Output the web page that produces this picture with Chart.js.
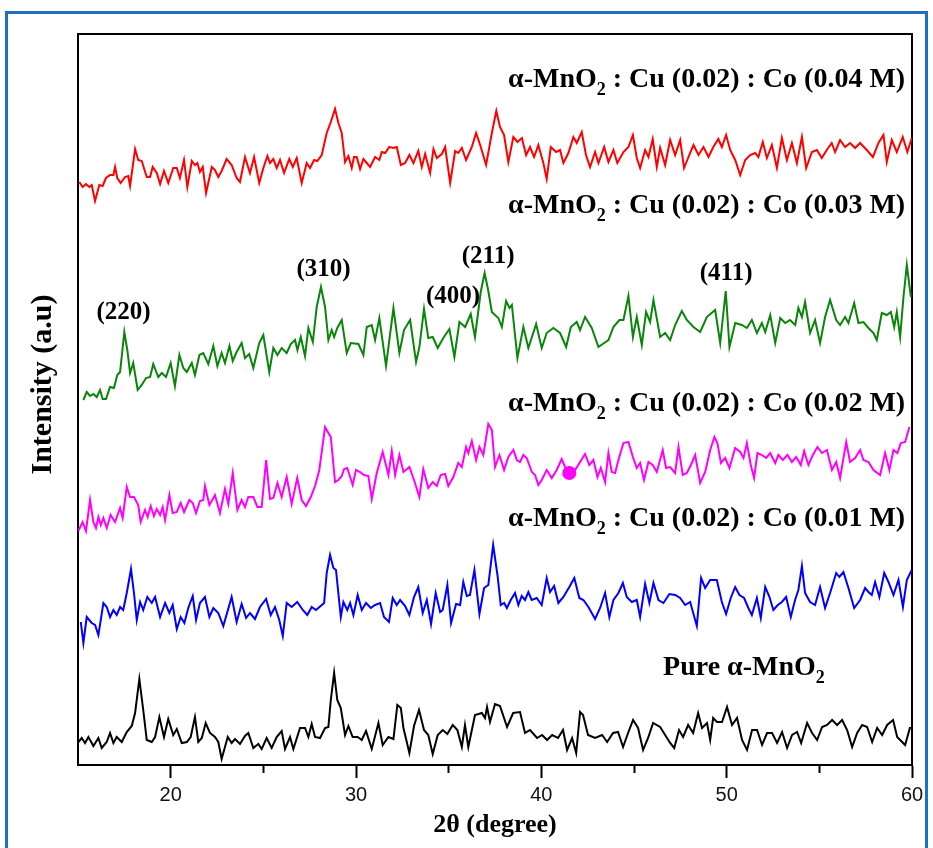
<!DOCTYPE html>
<html><head><meta charset="utf-8">
<script src="https://cdn.jsdelivr.net/npm/chart.js@4.4.0/dist/chart.umd.min.js"></script>
<style>
html,body{margin:0;padding:0;background:#fff;}
#wrap{position:relative;width:933px;height:848px;overflow:hidden;background:#fff;}
#frame{position:absolute;left:5px;top:11px;width:923px;height:860px;border:3px solid #1f70c1;box-sizing:border-box;pointer-events:none;}
canvas{position:absolute;left:0;top:0;}
</style></head><body>
<div id="wrap"><canvas id="c" width="933" height="848"></canvas><div id="frame"></div></div>
<script>
// ---- x-axis ticks ----
const majorTicks = [20, 30, 40, 50, 60];
const minorTicks = [25, 35, 45, 55];

// ---- Pure α-MnO2 (black) ----
const pureX = [15.02,15.20,15.38,15.56,15.83,16.10,16.28,16.55,16.73,16.91,
17.09,17.36,17.63,17.90,18.08,18.31,18.52,18.71,18.98,19.16,
19.39,19.64,19.87,20.14,20.33,20.60,20.87,21.08,21.31,21.49,
21.68,21.89,22.12,22.39,22.57,22.75,22.93,23.08,23.29,23.47,
23.74,24.01,24.19,24.46,24.73,24.91,25.18,25.45,25.72,25.99,
26.17,26.44,26.62,26.98,27.25,27.43,27.61,27.79,28.06,28.33,
28.51,28.64,28.82,28.99,29.18,29.41,29.59,29.82,30.09,30.31,
30.54,30.85,31.21,31.44,31.75,32.02,32.23,32.42,32.56,32.88,
33.13,33.40,33.67,33.90,34.14,34.41,34.68,34.93,35.22,35.47,
35.71,35.88,36.06,36.42,36.79,36.96,37.07,37.23,37.50,37.77,
38.15,38.48,38.85,39.12,39.39,39.77,40.04,40.31,40.58,40.90,
41.17,41.39,41.66,41.88,42.09,42.25,42.52,42.90,43.28,43.55,
43.87,44.14,44.41,44.68,44.95,45.22,45.49,45.76,46.03,46.41,
46.68,46.95,47.17,47.43,47.65,47.92,48.19,48.46,48.67,48.94,
49.11,49.27,49.48,49.75,50.02,50.29,50.56,50.83,51.10,51.37,
51.64,51.91,52.18,52.45,52.72,52.99,53.26,53.53,53.80,54.02,
54.34,54.61,54.88,55.15,55.42,55.69,55.96,56.23,56.50,56.77,
57.04,57.31,57.58,57.85,58.12,58.39,58.66,58.98,59.20,59.36,
59.63,59.90];
const pureY = [23,27,22,28,19,27,17,23,32,22,
28,23,33,39,52,86,55,25,23,28,
48,28,46,30,36,22,23,28,48,23,
27,42,32,28,23,6,18,28,22,26,
21,29,32,17,21,16,27,17,28,34,
16,28,16,37,37,28,41,28,27,37,
38,65,92,65,57,30,39,28,28,25,
34,16,42,20,28,26,60,57,37,12,
39,55,35,30,11,30,35,31,40,35,
18,40,18,50,52,47,58,43,61,59,
38,52,53,32,35,27,30,25,30,27,
35,15,27,12,53,50,30,27,30,23,
32,33,18,32,45,37,15,27,42,38,
30,22,17,35,28,40,32,52,37,42,
25,47,43,43,58,40,47,25,15,35,
35,20,32,32,22,33,17,30,33,22,
42,32,25,38,40,45,40,45,35,18,
32,40,38,23,37,30,40,45,28,25,
20,38];

// ---- Cu (0.02) : Co (0.01 M) (blue) ----
const co01X = [15.15,15.29,15.47,15.74,15.92,16.10,16.37,16.55,16.73,16.91,
17.09,17.27,17.44,17.63,17.86,18.02,18.17,18.35,18.52,18.74,
18.98,19.16,19.43,19.70,19.93,20.11,20.33,20.54,20.74,20.95,
21.19,21.37,21.58,21.85,22.09,22.30,22.57,22.84,23.29,23.56,
23.83,24.07,24.28,24.55,24.82,25.15,25.40,25.63,25.86,26.05,
26.26,26.53,26.83,27.13,27.37,27.61,27.84,28.28,28.42,28.60,
28.78,28.92,29.18,29.32,29.53,29.68,29.86,30.09,30.31,30.54,
30.80,31.03,31.30,31.51,31.78,31.98,32.20,32.38,32.65,32.88,
33.13,33.36,33.60,33.82,34.05,34.30,34.54,34.68,34.93,35.13,
35.40,35.62,35.79,35.98,36.15,36.39,36.66,36.91,37.14,37.40,
37.64,37.81,37.99,38.14,38.35,38.58,38.76,38.94,39.12,39.30,
39.48,39.75,40.02,40.29,40.47,40.69,40.92,41.19,41.51,41.78,
42.05,42.27,42.54,42.90,43.17,43.44,43.67,43.89,44.16,44.40,
44.61,44.88,45.15,45.33,45.60,45.83,46.05,46.32,46.59,46.91,
47.22,47.49,47.76,48.03,48.39,48.62,48.84,49.11,49.47,49.74,
49.97,50.22,50.46,50.69,50.94,51.17,51.36,51.63,51.84,52.08,
52.31,52.52,52.76,52.98,53.21,53.46,53.69,53.87,54.06,54.23,
54.50,54.77,55.04,55.31,55.58,55.91,56.08,56.30,56.57,56.88,
57.20,57.47,57.65,57.83,58.01,58.24,58.50,58.73,59.00,59.27,
59.51,59.72,59.99];
const co01Y = [143,122,148,142,140,130,162,158,148,155,
150,158,155,172,196,172,145,163,155,168,
162,168,148,162,152,160,136,148,142,157,
169,145,162,168,148,157,152,139,168,143,
161,147,152,146,158,166,150,158,145,129,
162,158,163,155,150,158,155,162,192,210,
197,195,148,163,155,162,150,170,155,162,
157,160,162,148,143,167,160,165,159,150,
168,178,152,165,141,172,153,155,180,142,
161,160,183,169,170,195,151,177,180,220,
189,160,162,157,165,172,160,169,165,173,
165,167,160,187,173,179,162,168,178,187,
167,165,158,146,157,172,148,165,172,182,
168,163,165,148,181,162,182,165,162,171,
170,167,160,163,139,187,177,185,185,163,
151,167,178,170,167,157,150,167,147,178,
168,155,160,163,168,148,165,175,199,172,
163,160,178,157,172,192,188,193,177,157,
165,177,173,170,183,168,192,183,170,185,
158,185,195];

// ---- Cu (0.02) : Co (0.02 M) (magenta) ----
const co02X = [15.02,15.25,15.43,15.65,15.83,15.97,16.10,16.23,16.37,16.55,
16.76,17.00,17.27,17.41,17.63,17.81,18.02,18.25,18.38,18.62,
18.76,18.92,19.10,19.25,19.43,19.57,19.70,19.93,20.11,20.33,
20.54,20.72,21.01,21.19,21.37,21.58,21.76,21.85,22.09,22.39,
22.66,22.93,23.11,23.35,23.60,23.83,24.01,24.19,24.46,24.68,
24.91,25.15,25.36,25.54,25.76,25.99,26.26,26.53,26.83,27.07,
27.30,27.56,27.79,28.02,28.33,28.51,28.64,28.87,29.05,29.23,
29.36,29.53,29.82,30.00,30.22,30.43,30.67,30.85,31.12,31.44,
31.75,31.93,32.11,32.34,32.56,32.88,33.13,33.42,33.63,33.90,
34.14,34.36,34.57,34.81,34.98,35.25,35.52,35.71,35.94,36.06,
36.25,36.48,36.66,36.87,37.14,37.33,37.50,37.74,37.99,38.22,
38.49,38.68,38.85,39.03,39.21,39.49,39.66,39.84,40.02,40.29,
40.56,40.83,41.10,41.28,41.55,41.82,42.09,42.36,42.59,42.81,
43.03,43.21,43.44,43.62,43.80,43.98,44.16,44.43,44.70,44.94,
45.15,45.33,45.54,45.78,46.01,46.23,46.55,46.73,46.95,47.22,
47.40,47.63,47.85,48.07,48.30,48.57,48.84,49.11,49.34,49.50,
49.69,49.92,50.15,50.46,50.73,50.91,51.09,51.30,51.48,51.66,
51.90,52.13,52.35,52.62,52.79,53.03,53.28,53.52,53.75,54.00,
54.18,54.41,54.65,54.90,55.14,55.41,55.68,55.91,56.12,56.45,
56.66,56.93,57.20,57.38,57.65,57.92,58.28,58.55,58.78,59.00,
59.21,59.40,59.63,59.86];
const co02Y = [234,243,234,265,243,237,248,240,247,237,
250,243,257,247,278,268,268,260,243,255,
248,259,249,256,250,258,245,270,252,253,
262,253,265,262,252,264,265,279,260,270,
252,276,261,292,255,265,258,268,268,258,
258,305,266,267,282,268,288,261,287,265,
259,268,279,295,338,332,328,283,285,289,
296,297,280,295,293,290,289,266,292,313,
290,314,290,310,293,298,285,268,296,277,
283,279,290,291,279,288,302,298,318,312,
324,305,318,310,341,335,298,310,295,308,
315,305,303,310,307,293,290,280,285,295,
287,295,306,298,290,295,303,311,300,305,
288,297,283,312,293,292,305,322,323,308,
297,302,285,303,300,293,315,297,298,292,
318,290,292,300,310,282,293,315,328,322,
302,307,297,317,313,307,322,300,287,312,
310,307,312,302,310,305,310,303,308,300,
314,300,310,318,312,315,295,303,287,323,
303,307,315,305,303,295,290,312,295,315,
312,322,323,338];
// marker dot on the magenta pattern
const dotX = [41.51];
const dotY = [292];

// ---- Cu (0.02) : Co (0.03 M) (green) ----
const co03X = [15.29,15.47,15.65,15.83,16.01,16.19,16.33,16.51,16.73,16.94,
17.12,17.27,17.50,17.66,17.81,17.98,18.22,18.44,18.67,18.89,
19.06,19.33,19.52,19.75,20.00,20.23,20.47,20.68,20.87,21.14,
21.31,21.55,21.76,22.03,22.30,22.52,22.75,22.93,23.17,23.35,
23.56,23.83,24.01,24.24,24.46,24.78,25.00,25.32,25.54,25.76,
25.99,26.26,26.48,26.71,26.84,27.02,27.25,27.43,27.67,27.88,
28.11,28.33,28.51,28.69,28.82,28.99,29.23,29.50,29.72,30.13,
30.40,30.58,30.85,31.03,31.26,31.62,32.02,32.34,32.59,32.92,
33.24,33.42,33.67,33.90,34.14,34.41,34.71,35.04,35.31,35.58,
35.89,36.19,36.42,36.73,36.94,37.13,37.33,37.50,37.68,37.87,
38.10,38.28,38.41,38.71,39.03,39.30,39.72,40.02,40.29,40.65,
41.01,41.34,41.59,41.91,42.09,42.36,42.72,43.08,43.39,43.62,
43.89,44.21,44.43,44.70,44.94,45.15,45.42,45.65,45.87,46.05,
46.41,46.68,46.95,47.22,47.58,47.85,48.21,48.57,48.93,49.38,
49.65,49.95,50.15,50.46,50.82,51.09,51.36,51.63,51.90,52.08,
52.35,52.62,52.89,53.16,53.42,53.70,53.87,54.06,54.23,54.50,
54.77,55.04,55.31,55.58,55.91,56.12,56.39,56.57,56.88,57.11,
57.38,57.65,57.92,58.10,58.37,58.64,58.86,59.04,59.18,59.36,
59.54,59.72,59.94];
const co03Y = [365,373,369,371,368,375,366,366,378,377,
390,393,433,415,392,402,375,380,387,388,
401,388,392,388,402,379,410,397,393,402,
390,410,412,401,419,399,412,402,419,404,
413,422,407,411,397,422,430,393,417,410,
417,412,421,425,415,428,409,437,423,458,
478,458,425,435,428,437,445,412,422,421,
410,438,440,425,447,399,457,412,435,445,
403,418,456,427,428,417,427,436,408,443,
438,451,428,473,492,475,453,450,447,438,
464,457,460,407,438,417,441,417,432,437,
432,418,438,443,435,448,437,418,422,425,
438,445,445,469,428,448,420,453,443,465,
428,432,425,440,454,445,438,433,448,455,
422,474,418,442,440,437,445,432,442,433,
450,422,447,442,445,440,457,448,463,432,
445,422,448,465,445,440,448,442,462,442,
443,437,432,425,452,450,453,438,453,428,
468,500,468];

// ---- Cu (0.02) : Co (0.04 M) (red) ----
const co04X = [15.07,15.25,15.43,15.61,15.74,15.92,16.15,16.33,16.51,16.73,
16.91,17.00,17.12,17.30,17.54,17.71,17.81,18.08,18.25,18.44,
18.71,18.89,19.03,19.25,19.43,19.64,19.87,20.14,20.33,20.50,
20.72,20.90,21.14,21.31,21.44,21.58,21.73,21.91,22.22,22.39,
22.57,22.75,23.02,23.29,23.56,23.74,24.01,24.28,24.50,24.78,
25.00,25.22,25.36,25.54,25.72,25.90,26.12,26.40,26.59,26.80,
27.07,27.34,27.52,27.74,27.91,28.15,28.42,28.64,28.87,29.05,
29.23,29.41,29.59,29.77,29.89,30.04,30.22,30.40,30.58,30.76,
31.03,31.26,31.39,31.57,31.80,32.02,32.20,32.42,32.65,32.88,
33.10,33.36,33.55,33.73,34.00,34.18,34.36,34.63,34.81,35.08,
35.35,35.52,35.71,35.94,36.25,36.48,36.70,37.02,37.33,37.57,
37.77,37.99,38.22,38.49,38.71,38.95,39.18,39.39,39.61,39.84,
40.11,40.29,40.51,40.80,41.01,41.19,41.46,41.73,41.91,42.18,
42.41,42.63,42.90,43.08,43.39,43.62,43.89,44.10,44.43,44.70,
44.94,45.15,45.33,45.60,45.78,46.01,46.23,46.41,46.68,46.95,
47.22,47.49,47.70,47.94,48.21,48.48,48.75,49.02,49.28,49.55,
49.74,49.97,50.19,50.46,50.73,51.00,51.27,51.54,51.71,51.95,
52.17,52.44,52.71,52.98,53.25,53.52,53.79,54.06,54.29,54.60,
54.87,55.13,55.40,55.67,55.85,56.12,56.39,56.66,56.93,57.20,
57.56,57.89,58.19,58.46,58.64,58.91,59.18,59.50,59.75,59.99];
const co04Y = [583,578,581,578,580,564,580,579,587,590,
590,598,587,582,588,589,579,616,605,604,
588,588,598,592,581,594,582,597,597,587,
605,578,604,600,602,593,598,572,598,595,
588,594,606,600,587,583,608,592,608,582,
597,609,602,606,597,605,592,606,598,607,
582,602,597,605,604,610,632,643,656,642,
632,603,609,597,608,608,596,606,602,598,
608,605,613,612,618,617,618,600,602,610,
602,614,598,611,592,616,607,611,618,582,
614,612,617,605,618,632,620,600,632,654,
638,630,603,628,623,627,610,618,608,620,
602,586,618,613,615,602,612,628,622,633,
610,598,613,602,618,603,615,602,613,618,
630,607,597,615,608,626,598,617,600,625,
610,625,597,608,620,610,618,608,618,626,
618,630,615,605,590,605,610,612,608,623,
607,620,597,627,605,622,602,628,597,613,
615,607,615,622,613,625,618,622,617,622,
615,608,622,630,603,625,613,628,613,627];

// ---- text annotations (anchored in data coordinates) ----
const seriesLabels = [
  {pre:'α-MnO', sub:'2', post:' : Cu (0.02) : Co (0.04 M)', x:59.63, y:678, align:'right'},
  {pre:'α-MnO', sub:'2', post:' : Cu (0.02) : Co (0.03 M)', x:59.63, y:552, align:'right'},
  {pre:'α-MnO', sub:'2', post:' : Cu (0.02) : Co (0.02 M)', x:59.63, y:354, align:'right'},
  {pre:'α-MnO', sub:'2', post:' : Cu (0.02) : Co (0.01 M)', x:59.63, y:239, align:'right'},
  {pre:'Pure α-MnO', sub:'2', post:'', x:46.57, y:90, align:'left'}
];
const peakLabels = [
  {t:'(220)', x:17.46, y:452},
  {t:'(310)', x:28.25, y:495},
  {t:'(400)', x:35.24, y:468},
  {t:'(211)', x:37.13, y:508},
  {t:'(411)', x:49.97, y:491}
];

const SERIF = "'Liberation Serif','Times New Roman',serif";
const toXY = (xs, ys) => xs.map((v, i) => ({x: v, y: ys[i]}));

const annotate = {
  id: 'annotate',
  afterDatasetsDraw(chart) {
    const c = chart.ctx, sx = chart.scales.x, sy = chart.scales.y;
    c.save();
    c.fillStyle = '#000';
    c.textBaseline = 'alphabetic';
    const big = 'bold 28px ' + SERIF, small = 'bold 18px ' + SERIF;
    seriesLabels.forEach(l => {
      c.font = big; const w1 = c.measureText(l.pre).width; const w3 = c.measureText(l.post).width;
      c.font = small; const w2 = c.measureText(l.sub).width;
      const total = w1 + w2 + w3;
      let px = sx.getPixelForValue(l.x); const py = sy.getPixelForValue(l.y);
      if (l.align === 'right') px -= total;
      c.textAlign = 'left';
      c.font = big; c.fillText(l.pre, px, py);
      c.font = small; c.fillText(l.sub, px + w1, py + 8);
      c.font = big; c.fillText(l.post, px + w1 + w2, py);
    });
    c.font = 'bold 25px ' + SERIF;
    c.textAlign = 'center'; c.textBaseline = 'middle';
    peakLabels.forEach(p => c.fillText(p.t, sx.getPixelForValue(p.x), sy.getPixelForValue(p.y)));
    c.restore();
  }
};

const lineDs = (xs, ys, color) => ({
  type: 'line', data: toXY(xs, ys), borderColor: color, backgroundColor: color,
  borderWidth: 2, pointRadius: 0, tension: 0, fill: false, xAxisID: 'x', yAxisID: 'y'
});

new Chart(document.getElementById('c').getContext('2d'), {
  type: 'line',
  data: { datasets: [
    lineDs(pureX, pureY, '#000000'),
    lineDs(co01X, co01Y, '#0000ff'),
    lineDs(co02X, co02Y, '#ff00ff'),
    lineDs(co03X, co03Y, '#0a850a'),
    lineDs(co04X, co04Y, '#ff0000'),
    {type: 'scatter', data: toXY(dotX, dotY), pointRadius: 7, pointBackgroundColor: '#ff00ff',
     pointBorderWidth: 0, xAxisID: 'x', yAxisID: 'y'}
  ]},
  options: {
    responsive: false, animation: false, devicePixelRatio: 1,
    layout: {padding: 0},
    plugins: {legend: {display: false}, tooltip: {enabled: false}},
    scales: {
      xMinor: {
        type: 'linear', position: 'bottom', weight: 0, min: 15, max: 60,
        afterFit: s => { s.height = 0; },
        afterBuildTicks: s => { s.ticks = minorTicks.map(v => ({value: v})); },
        ticks: {display: false},
        grid: {drawOnChartArea: false, drawTicks: true, tickLength: 8, tickWidth: 2, color: '#000'},
        border: {display: false}
      },
      x: {
        type: 'linear', position: 'bottom', weight: 1, min: 15, max: 60,
        afterFit: s => { s.height = 83; },
        afterBuildTicks: s => { s.ticks = majorTicks.map(v => ({value: v})); },
        ticks: {font: {family: "'Liberation Sans',Arial,sans-serif", size: 20}, color: '#111',
                padding: 5, maxRotation: 0, autoSkip: false},
        grid: {drawOnChartArea: false, tickLength: 13, tickWidth: 2, color: '#000'},
        border: {display: true, color: '#000', width: 2},
        title: {display: true, text: '2θ (degree)', color: '#000',
                font: {family: SERIF, size: 26, weight: 'bold'}, padding: {top: 0, bottom: 7}}
      },
      xTop: {
        type: 'linear', position: 'top', min: 15, max: 60,
        afterFit: s => { s.height = 34; },
        ticks: {display: false}, grid: {display: false, drawTicks: false},
        border: {display: true, color: '#000', width: 2}
      },
      y: {
        type: 'linear', position: 'left', min: 0, max: 731,
        afterFit: s => { s.width = 78; },
        ticks: {display: false}, grid: {display: false, drawTicks: false},
        border: {display: true, color: '#000', width: 2},
        title: {display: true, text: '    Intensity (a.u)', color: '#000',
                font: {family: SERIF, size: 30, weight: 'bold'}, padding: {top: 25, bottom: 0}}
      },
      yRight: {
        type: 'linear', position: 'right', min: 0, max: 731,
        afterFit: s => { s.width = 21; },
        ticks: {display: false}, grid: {display: false, drawTicks: false},
        border: {display: true, color: '#000', width: 2}
      }
    }
  },
  plugins: [annotate]
});
</script>
</body></html>
